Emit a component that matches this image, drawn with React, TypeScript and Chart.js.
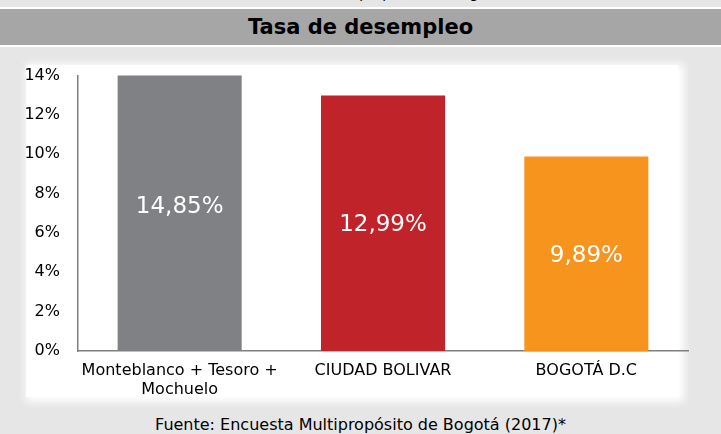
import React, { useEffect, useRef } from "react";
import { Chart, registerables } from "chart.js";

Chart.register(...registerables);

const categories: (string | string[])[] = [
  ["Monteblanco + Tesoro +", "Mochuelo"],
  "CIUDAD BOLIVAR",
  "BOGOTÁ D.C",
];
const values: number[] = [14.85, 12.99, 9.89];
const barColors: string[] = ["#808184", "#c0232a", "#f7941e"];
const yTicks: number[] = [0, 2, 4, 6, 8, 10, 12, 14];
const titleText = "Tasa de desempleo";
const footerText = "Fuente: Encuesta Multipropósito de Bogotá (2017)*";
const topCutText = "Fuente: Encuesta Multipropósito de Bogotá (2017)";

const FONT = "'DejaVu Sans', Verdana, sans-serif";

const valueLabelPlugin = {
  id: "valueLabels",
  afterDatasetsDraw(chart: any) {
    const ctx = chart.ctx;
    const meta = chart.getDatasetMeta(0);
    ctx.save();
    ctx.fillStyle = "#ffffff";
    ctx.font = `23px ${FONT}`;
    ctx.textAlign = "center";
    ctx.textBaseline = "middle";
    meta.data.forEach((el: any, i: number) => {
      const v = values[i];
      const txt = v.toFixed(2).replace(".", ",") + "%";
      const y = (el.y + el.base) / 2 + 2;
      ctx.fillText(txt, el.x, y);
    });
    ctx.restore();
  },
};

export default function App() {
  const canvasRef = useRef<HTMLCanvasElement | null>(null);

  useEffect(() => {
    document.body.style.margin = "0";
    const canvas = canvasRef.current;
    if (!canvas) return;
    const chart = new Chart(canvas, {
      type: "bar",
      data: {
        labels: categories,
        datasets: [
          {
            data: values,
            backgroundColor: barColors,
            borderWidth: 0,
            barPercentage: 0.61,
            categoryPercentage: 1,
          },
        ],
      },
      options: {
        animation: false,
        responsive: false,
        maintainAspectRatio: false,
        devicePixelRatio: 1,
        layout: { padding: { top: 26, right: 33, left: 0, bottom: 0 } },
        plugins: {
          legend: { display: false },
          tooltip: { enabled: false },
          title: { display: false },
        },
        scales: {
          x: {
            grid: { display: false, drawTicks: false },
            border: { display: true, color: "#7f7f7f", width: 1.5 },
            ticks: {
              color: "#000000",
              font: { family: FONT, size: 16, lineHeight: 1.15 },
              padding: 11,
              maxRotation: 0,
              autoSkip: false,
            },
            afterFit: (scale: any) => {
              scale.height = 59;
            },
          },
          y: {
            min: 0,
            max: 14,
            afterBuildTicks: (scale: any) => {
              scale.ticks = yTicks.map((v) => ({ value: v }));
            },
            grid: { display: false, drawTicks: false },
            border: { display: true, color: "#7f7f7f", width: 1.5 },
            ticks: {
              color: "#000000",
              font: { family: FONT, size: 16 },
              padding: 18,
              callback: (v: any) => `${v}%`,
            },
            afterFit: (scale: any) => {
              scale.width = 78;
            },
          },
        },
      },
      plugins: [valueLabelPlugin],
    });
    return () => chart.destroy();
  }, []);

  return (
    <div
      style={{
        position: "fixed",
        left: 0,
        top: 0,
        width: 721,
        height: 434,
        background: "#ffffff",
        overflow: "hidden",
        fontFamily: FONT,
      }}
    >
      <div
        style={{
          position: "absolute",
          left: 0,
          top: 0,
          width: 721,
          height: 7,
          background: "#e6e6e6",
          overflow: "hidden",
        }}
      >
        <div
          style={{
            position: "absolute",
            left: 0,
            top: -14,
            width: 552,
            textAlign: "right",
            fontSize: 14,
            lineHeight: "14px",
            color: "#000",
            whiteSpace: "nowrap",
          }}
        >
          {topCutText}
        </div>
      </div>
      <div
        style={{
          position: "absolute",
          left: 0,
          top: 9,
          width: 721,
          height: 36,
          background: "#a6a6a6",
          display: "flex",
          alignItems: "center",
          justifyContent: "center",
          fontWeight: "bold",
          fontSize: 21,
          color: "#000",
        }}
      >
        {titleText}
      </div>
      <div
        style={{
          position: "absolute",
          left: 0,
          top: 47,
          width: 721,
          height: 387,
          background: "#e6e6e6",
        }}
      />
      <div
        style={{
          position: "absolute",
          left: 26,
          top: 65,
          width: 652,
          height: 332,
          background: "#ffffff",
          boxShadow: "3px 2px 8px 3px #ffffff",
        }}
      />
      <canvas
        ref={canvasRef}
        width={721}
        height={362}
        style={{
          position: "absolute",
          left: 0,
          top: 48,
          width: 721,
          height: 362,
        }}
      />
      <div
        style={{
          position: "absolute",
          left: 0,
          top: 415,
          width: 721,
          textAlign: "center",
          fontSize: 16,
          lineHeight: "20px",
          color: "#000",
          whiteSpace: "nowrap",
        }}
      >
        {footerText}
      </div>
    </div>
  );
}
